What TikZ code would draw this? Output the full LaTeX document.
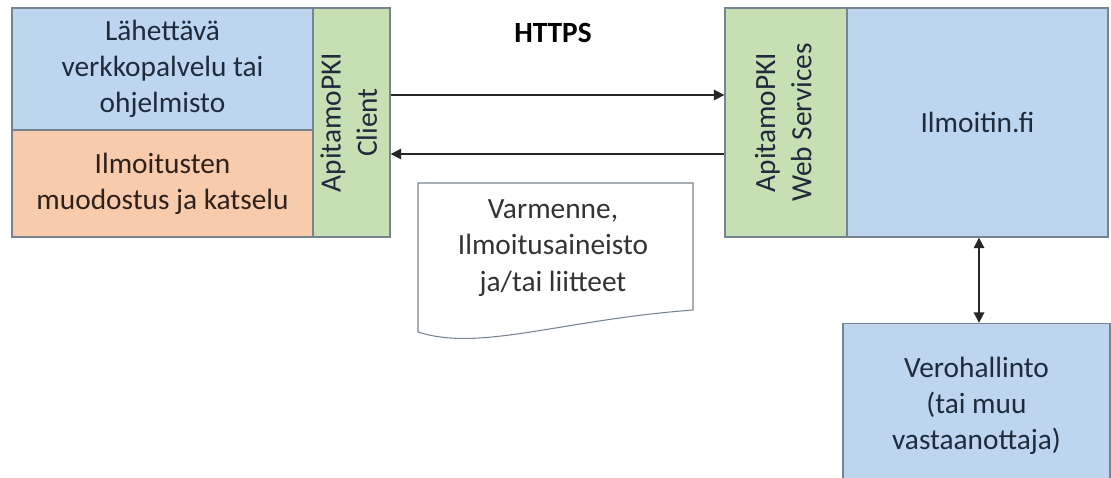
\documentclass[tikz,border=0pt]{standalone}
\usepackage{fontspec}
\setmainfont{Carlito}
\usepackage{tikz}
\usetikzlibrary{arrows.meta, calc}
\definecolor{paleblue}{HTML}{BDD5EE}
\definecolor{paleorange}{HTML}{F8CBAD}
\definecolor{palegreen}{HTML}{C6E0B4}
\definecolor{edgegray}{HTML}{77838F}
\definecolor{inkblue}{HTML}{1E2B3C}
\definecolor{inkbrown}{HTML}{2E211A}
\tikzset{
  box/.style={draw=edgegray, line width=0.8pt, inner sep=0pt, align=center, text=inkblue,
    font=\fontsize{16.7}{20.6}\selectfont},
  link/.style={draw=black!85, line width=1pt, -{Triangle[length=6pt, width=6pt]}},
  twolink/.style={draw=black!85, line width=1pt, {Triangle[length=6pt, width=6pt]}-{Triangle[length=6pt, width=6pt]}}
}

\begin{document}
\begin{tikzpicture}[x=0.02cm, y=-0.02cm]
  \useasboundingbox[fill=white] (0,0) rectangle (1111,477);
  % \draw[gray!30] (0,0) grid[step=50] (1111,477);

  % sending side
  \node[box, fill=paleblue, minimum width=6.02cm, minimum height=2.44cm] (sender) at (162.5,69)
    {Lähettävä\\verkkopalvelu tai\\ohjelmisto};
  \node[box, fill=paleorange, text=inkbrown, minimum width=6.02cm, minimum height=2.14cm] (forms) at (162.5,183.5)
    {Ilmoitusten\\muodostus ja katselu};
  \node[box, fill=palegreen, minimum width=1.54cm, minimum height=4.58cm] (client) at (351.5,122.5)
    {\rotatebox{90}{\begin{tabular}{@{}c@{}}ApitamoPKI\\Client\end{tabular}}};

  % receiving side
  \node[box, fill=palegreen, minimum width=2.44cm, minimum height=4.58cm] (ws) at (786,122.5)
    {\rotatebox{90}{\begin{tabular}{@{}c@{}}ApitamoPKI\\Web Services\end{tabular}}};
  \node[box, fill=paleblue, minimum width=5.22cm, minimum height=4.58cm] (ilmoitin) at (977.5,122.5)
    {Ilmoitin.fi};
  \node[box, fill=paleblue, minimum width=5.34cm, minimum height=3.3cm] (vero) at (976.5,406)
    {Verohallinto\\(tai muu\\vastaanottaja)};

  \node[font=\fontsize{16.7}{20.6}\selectfont\bfseries] (https) at (553,33) {HTTPS};

  % document
  \filldraw[draw=edgegray, fill=white, line width=0.6pt] (418,183) -- (693,183) -- (693,310)
    .. controls (560,320) and (480,352) .. (418,332) -- cycle;
  \node[align=center, text=black!80, font=\fontsize{16.7}{20.6}\selectfont] (doc) at (553,248)
    {Varmenne,\\Ilmoitusaineisto\\ja/tai liitteet};

  \draw[link] (client.east |- 0,95) -- (ws.west |- 0,95);
  \draw[link] (ws.west |- 0,154) -- (client.east |- 0,154);
  \draw[twolink] (ilmoitin.south -| 979,0) -- (vero.north -| 979,0);
\end{tikzpicture}
\end{document}
